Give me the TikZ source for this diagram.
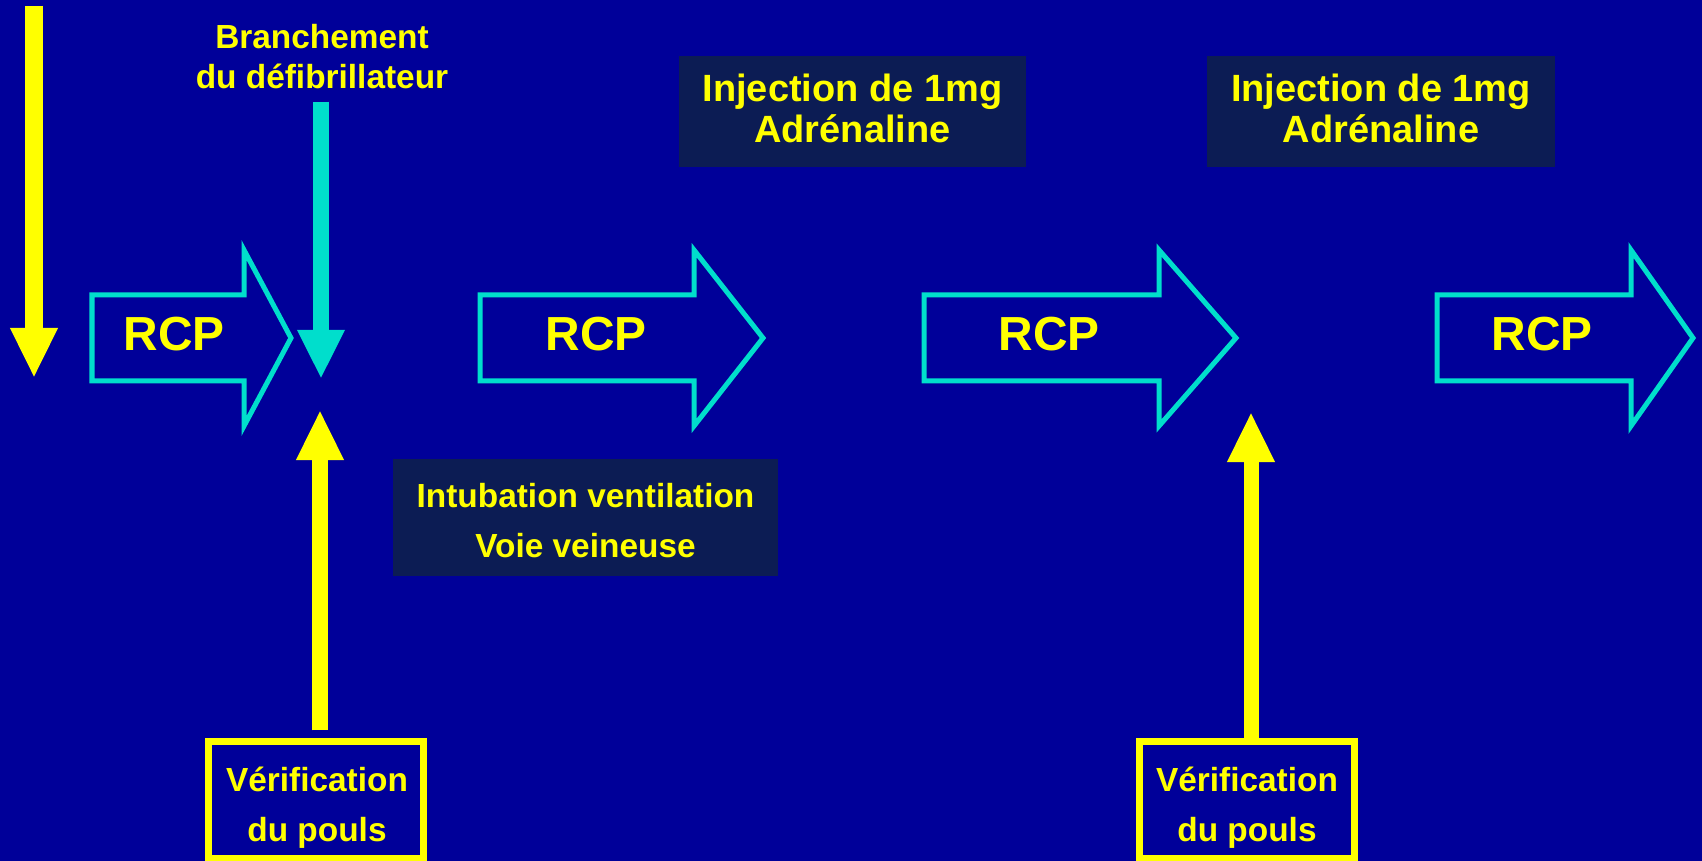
\documentclass[tikz,border=0pt]{standalone}
\usepackage{fontspec}
\setmainfont{Liberation Sans}
\usetikzlibrary{arrows.meta}

\definecolor{fond}{RGB}{0,0,153}
\definecolor{marine}{RGB}{12,28,84}
\definecolor{turq}{RGB}{0,222,204}
\definecolor{jaune}{RGB}{255,255,0}

\begin{document}
\begin{tikzpicture}[x=0.01cm,y=-0.01cm,
    rcp/.style={draw=turq,line width=0.05cm,line join=miter},
    rcptxt/.style={text=jaune,font=\bfseries\fontsize{13.6}{16}\selectfont},
    injbox/.style={fill=marine,text=jaune,align=center,inner sep=0pt,
        minimum width=3.47cm,minimum height=1.11cm,font=\bfseries\fontsize{10.8}{11.7}\selectfont},
    poulsbox/.style={draw=jaune,line width=0.07cm,fill=fond,inner sep=0pt,
        minimum width=2.14cm,minimum height=1.16cm},
    poulstxt/.style={text=jaune,align=center,inner sep=0pt,font=\bfseries\fontsize{9.5}{14.2}\selectfont},
    jfleche/.style={draw=jaune,line width=#1,-{Triangle[length=0.5cm,width=0.44cm]}},
    tfleche/.style={draw=turq,line width=0.16cm,-{Triangle[length=0.49cm,width=0.44cm]}}
  ]

  \useasboundingbox (0,0) rectangle (1702,861);
  \fill[fond] (0,0) rectangle (1702,861);

  %block arrows RCP
  \foreach \l/\h/\t/\tx/\name in {92/244/291/174/rcpa, 480/694/763/596/rcpb, 924/1159/1236/1049/rcpc, 1437/1631/1693/1542/rcpd}{
       \draw[rcp] (\l,295) -- (\h,295) -- (\h,250) -- (\t,338) -- (\h,426) -- (\h,381) -- (\l,381) -- cycle;
       \node[rcptxt] (\name) at (\tx,334) {RCP};
  }

  %dark boxes
  \node[injbox] (inja) at (852.5,111.5) {Injection de 1mg\\Adrénaline\rule[-1.7pt]{0pt}{0pt}};
  \node[injbox] (injb) at (1381,111.5) {Injection de 1mg\\Adrénaline\rule[-1.7pt]{0pt}{0pt}};
  \node[injbox,minimum width=3.85cm,minimum height=1.17cm,font=\bfseries\fontsize{9.5}{14.2}\selectfont] (intub) at (585.5,517.5) {\rule{0pt}{8.5pt}Intubation ventilation\\Voie veineuse};

  %pulse checks
  \node[poulsbox] (pla) at (316,800) {};
  \node[poulsbox] (plb) at (1247,800) {};
  \node[poulstxt] (plat) at (317,808) {Vérification\\du pouls};
  \node[poulstxt] (plbt) at (1247,808) {Vérification\\du pouls};

  \node[text=jaune,align=center,font=\bfseries\fontsize{9.5}{11.4}\selectfont] (brch) at (322,57) {Branchement\\du défibrillateur};

  \coordinate (debut) at (34,6);
  \coordinate (arret) at (34,378);
  \coordinate (choc) at (321,379);
  \coordinate (pta) at (320,410);
  \coordinate (ptb) at (1251,412);

  \draw[jfleche=0.18cm] (debut) -- (arret);
  \draw[tfleche] (brch.south -| choc) -- (choc);
  \draw[jfleche=0.15cm,shorten <=0.08cm] (pla.north -| pta) -- (pta);
  \draw[jfleche=0.15cm] (plb.north -| ptb) -- (ptb);

\end{tikzpicture}
\end{document}
